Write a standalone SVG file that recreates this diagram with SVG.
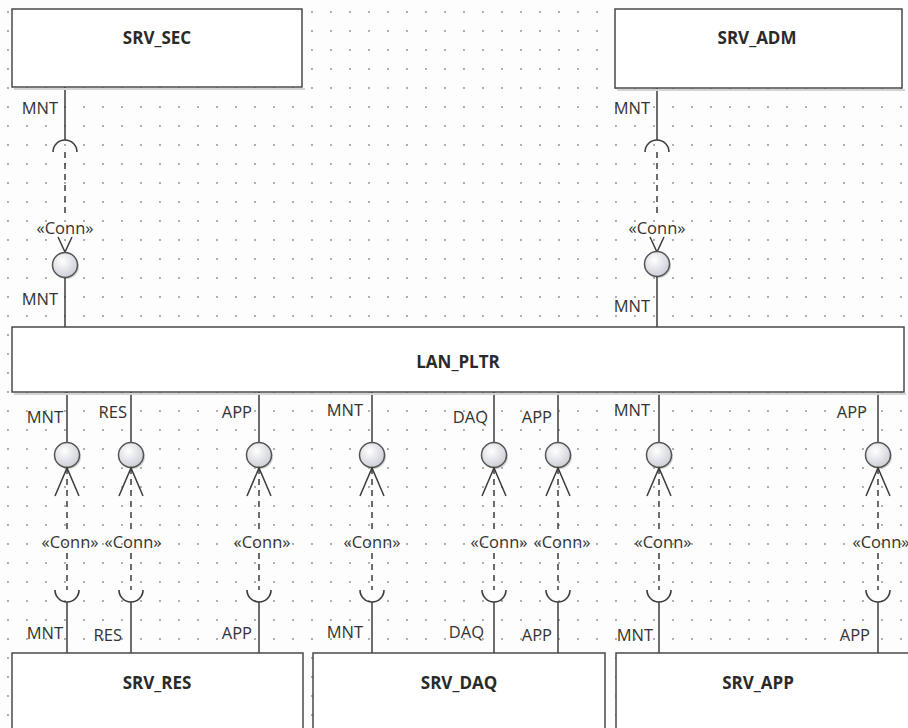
<svg xmlns="http://www.w3.org/2000/svg" width="908" height="728" viewBox="0 0 908 728">
<defs>
<pattern id="grid" x="0" y="0" width="19" height="19" patternUnits="userSpaceOnUse">
<circle cx="8" cy="12" r="0.9" fill="#8a8a8a"/>
</pattern>
<radialGradient id="ball" cx="0.4" cy="0.35" r="0.7">
<stop offset="0" stop-color="#ffffff"/>
<stop offset="1" stop-color="#c9ccd6"/>
</radialGradient>
<style>
.box{fill:#ffffff;stroke:#4a4a4a;stroke-width:1.5}
.shadow{fill:#d4d4d4}
.name{font-family:"Open Sans","Liberation Sans",sans-serif;font-size:17px;font-weight:bold;fill:#2a2a2a;text-anchor:middle}
.lbl{font-family:"Open Sans","Liberation Sans",sans-serif;font-size:16.5px;fill:#333;text-anchor:end}
.conn{font-family:"Open Sans","Liberation Sans",sans-serif;font-size:16.5px;fill:#333;text-anchor:middle}
.ln{stroke:#3c3c3c;stroke-width:1.5;fill:none}
.dash{stroke:#3c3c3c;stroke-width:1.5;fill:none;stroke-dasharray:6 5}
.sock{stroke:#3c3c3c;stroke-width:1.6;fill:none}
.lolli{fill:url(#ball);stroke:#555;stroke-width:1.5}
.lshadow{fill:#cfcfcf}
</style>
</defs>
<rect x="0" y="0" width="908" height="728" fill="#fdfdfd"/>
<rect x="0" y="0" width="908" height="728" fill="url(#grid)"/>

<g id="connectors">
<g id="c-sec">
<line class="ln" x1="65" y1="87" x2="65" y2="140"/>
<path class="sock" d="M53,152 A12,12 0 0 1 77,152"/>
<line class="dash" x1="65" y1="152" x2="65" y2="215"/>
<text class="conn" x="65" y="234">«Conn»</text>
<path class="ln" d="M58,237 L65,252 L72,237"/>
<circle class="lshadow" cx="66.5" cy="266.5" r="12.5"/>
<circle class="lolli" cx="65" cy="265" r="12.5"/>
<line class="ln" x1="65" y1="277.5" x2="65" y2="327"/>
<text class="lbl" x="58" y="114">MNT</text>
<text class="lbl" x="58" y="305">MNT</text>
</g>
<g id="c-adm">
<line class="ln" x1="657" y1="88" x2="657" y2="140"/>
<path class="sock" d="M645,152 A12,12 0 0 1 669,152"/>
<line class="dash" x1="657" y1="152" x2="657" y2="215"/>
<text class="conn" x="657" y="234">«Conn»</text>
<path class="ln" d="M650,237 L657,252 L664,237"/>
<circle class="lshadow" cx="658.5" cy="265.5" r="12.5"/>
<circle class="lolli" cx="657" cy="264" r="12.5"/>
<line class="ln" x1="657" y1="276.5" x2="657" y2="327"/>
<text class="lbl" x="650" y="114">MNT</text>
<text class="lbl" x="650" y="312">MNT</text>
</g>

<g id="c-res-mnt">
<line class="ln" x1="67" y1="392" x2="67" y2="442.5"/>
<circle class="lshadow" cx="68.5" cy="456.5" r="12.5"/>
<circle class="lolli" cx="67" cy="455" r="12.5"/>
<path class="ln" d="M55,496 L67,468 L79,496"/>
<line class="dash" x1="67" y1="468" x2="67" y2="530"/>
<text class="conn" x="70" y="548">«Conn»</text>
<line class="dash" x1="67" y1="553" x2="67" y2="590"/>
<path class="sock" d="M55,590 A12,12 0 0 0 79,590"/>
<line class="ln" x1="67" y1="602" x2="67" y2="653"/>
<text class="lbl" x="63" y="423">MNT</text>
<text class="lbl" x="63" y="639">MNT</text>
</g>
<g id="c-res-res">
<line class="ln" x1="131" y1="392" x2="131" y2="442.5"/>
<circle class="lshadow" cx="132.5" cy="456.5" r="12.5"/>
<circle class="lolli" cx="131" cy="455" r="12.5"/>
<path class="ln" d="M119,496 L131,468 L143,496"/>
<line class="dash" x1="131" y1="468" x2="131" y2="530"/>
<text class="conn" x="133" y="548">«Conn»</text>
<line class="dash" x1="131" y1="553" x2="131" y2="590"/>
<path class="sock" d="M119,590 A12,12 0 0 0 143,590"/>
<line class="ln" x1="131" y1="602" x2="131" y2="653"/>
<text class="lbl" x="127" y="418">RES</text>
<text class="lbl" x="122" y="641">RES</text>
</g>
<g id="c-res-app">
<line class="ln" x1="259" y1="392" x2="259" y2="442.5"/>
<circle class="lshadow" cx="260.5" cy="456.5" r="12.5"/>
<circle class="lolli" cx="259" cy="455" r="12.5"/>
<path class="ln" d="M247,496 L259,468 L271,496"/>
<line class="dash" x1="259" y1="468" x2="259" y2="530"/>
<text class="conn" x="262" y="548">«Conn»</text>
<line class="dash" x1="259" y1="553" x2="259" y2="590"/>
<path class="sock" d="M247,590 A12,12 0 0 0 271,590"/>
<line class="ln" x1="259" y1="602" x2="259" y2="653"/>
<text class="lbl" x="252" y="418">APP</text>
<text class="lbl" x="252" y="639">APP</text>
</g>
<g id="c-daq-mnt">
<line class="ln" x1="372" y1="392" x2="372" y2="442.5"/>
<circle class="lshadow" cx="373.5" cy="456.5" r="12.5"/>
<circle class="lolli" cx="372" cy="455" r="12.5"/>
<path class="ln" d="M360,496 L372,468 L384,496"/>
<line class="dash" x1="372" y1="468" x2="372" y2="530"/>
<text class="conn" x="372" y="548">«Conn»</text>
<line class="dash" x1="372" y1="553" x2="372" y2="590"/>
<path class="sock" d="M360,590 A12,12 0 0 0 384,590"/>
<line class="ln" x1="372" y1="602" x2="372" y2="653"/>
<text class="lbl" x="363" y="416">MNT</text>
<text class="lbl" x="363" y="638">MNT</text>
</g>
<g id="c-daq-daq">
<line class="ln" x1="494" y1="392" x2="494" y2="442.5"/>
<circle class="lshadow" cx="495.5" cy="456.5" r="12.5"/>
<circle class="lolli" cx="494" cy="455" r="12.5"/>
<path class="ln" d="M482,496 L494,468 L506,496"/>
<line class="dash" x1="494" y1="468" x2="494" y2="530"/>
<text class="conn" x="499" y="548">«Conn»</text>
<line class="dash" x1="494" y1="553" x2="494" y2="590"/>
<path class="sock" d="M482,590 A12,12 0 0 0 506,590"/>
<line class="ln" x1="494" y1="602" x2="494" y2="653"/>
<text class="lbl" x="488" y="423">DAQ</text>
<text class="lbl" x="484" y="638">DAQ</text>
</g>
<g id="c-daq-app">
<line class="ln" x1="558" y1="392" x2="558" y2="442.5"/>
<circle class="lshadow" cx="559.5" cy="456.5" r="12.5"/>
<circle class="lolli" cx="558" cy="455" r="12.5"/>
<path class="ln" d="M546,496 L558,468 L570,496"/>
<line class="dash" x1="558" y1="468" x2="558" y2="530"/>
<text class="conn" x="562" y="548">«Conn»</text>
<line class="dash" x1="558" y1="553" x2="558" y2="590"/>
<path class="sock" d="M546,590 A12,12 0 0 0 570,590"/>
<line class="ln" x1="558" y1="602" x2="558" y2="653"/>
<text class="lbl" x="552" y="423">APP</text>
<text class="lbl" x="552" y="641">APP</text>
</g>
<g id="c-app-mnt">
<line class="ln" x1="659" y1="392" x2="659" y2="442.5"/>
<circle class="lshadow" cx="660.5" cy="456.5" r="12.5"/>
<circle class="lolli" cx="659" cy="455" r="12.5"/>
<path class="ln" d="M647,496 L659,468 L671,496"/>
<line class="dash" x1="659" y1="468" x2="659" y2="530"/>
<text class="conn" x="663" y="548">«Conn»</text>
<line class="dash" x1="659" y1="553" x2="659" y2="590"/>
<path class="sock" d="M647,590 A12,12 0 0 0 671,590"/>
<line class="ln" x1="659" y1="602" x2="659" y2="653"/>
<text class="lbl" x="650" y="416">MNT</text>
<text class="lbl" x="653" y="641">MNT</text>
</g>
<g id="c-app-app">
<line class="ln" x1="878" y1="392" x2="878" y2="442.5"/>
<circle class="lshadow" cx="879.5" cy="456.5" r="12.5"/>
<circle class="lolli" cx="878" cy="455" r="12.5"/>
<path class="ln" d="M866,496 L878,468 L890,496"/>
<line class="dash" x1="878" y1="468" x2="878" y2="530"/>
<text class="conn" x="881" y="548">«Conn»</text>
<line class="dash" x1="878" y1="553" x2="878" y2="590"/>
<path class="sock" d="M866,590 A12,12 0 0 0 890,590"/>
<line class="ln" x1="878" y1="602" x2="878" y2="653"/>
<text class="lbl" x="867" y="418">APP</text>
<text class="lbl" x="870" y="641">APP</text>
</g>
</g>

<g id="SRV_SEC">
<rect class="shadow" x="14" y="88" width="291" height="2"/>
<rect class="box" x="12" y="9" width="290" height="78"/>
<text class="name" x="157" y="44">SRV_SEC</text>
</g>
<g id="SRV_ADM">
<rect class="shadow" x="617" y="89" width="288" height="2"/>
<rect class="box" x="615" y="9" width="287" height="79"/>
<text class="name" x="757" y="44">SRV_ADM</text>
</g>
<g id="LAN_PLTR">
<rect class="shadow" x="14" y="393" width="892" height="2"/>
<rect class="box" x="12" y="327" width="892" height="65"/>
<text class="name" x="458" y="368">LAN_PLTR</text>
</g>
<g id="SRV_RES">
<rect class="box" x="12" y="653" width="291" height="100"/>
<text class="name" x="157" y="689">SRV_RES</text>
</g>
<g id="SRV_DAQ">
<rect class="box" x="313" y="653" width="292" height="100"/>
<text class="name" x="459" y="689">SRV_DAQ</text>
</g>
<g id="SRV_APP">
<rect class="box" x="616" y="653" width="310" height="100"/>
<text class="name" x="758" y="689">SRV_APP</text>
</g>
</svg>
